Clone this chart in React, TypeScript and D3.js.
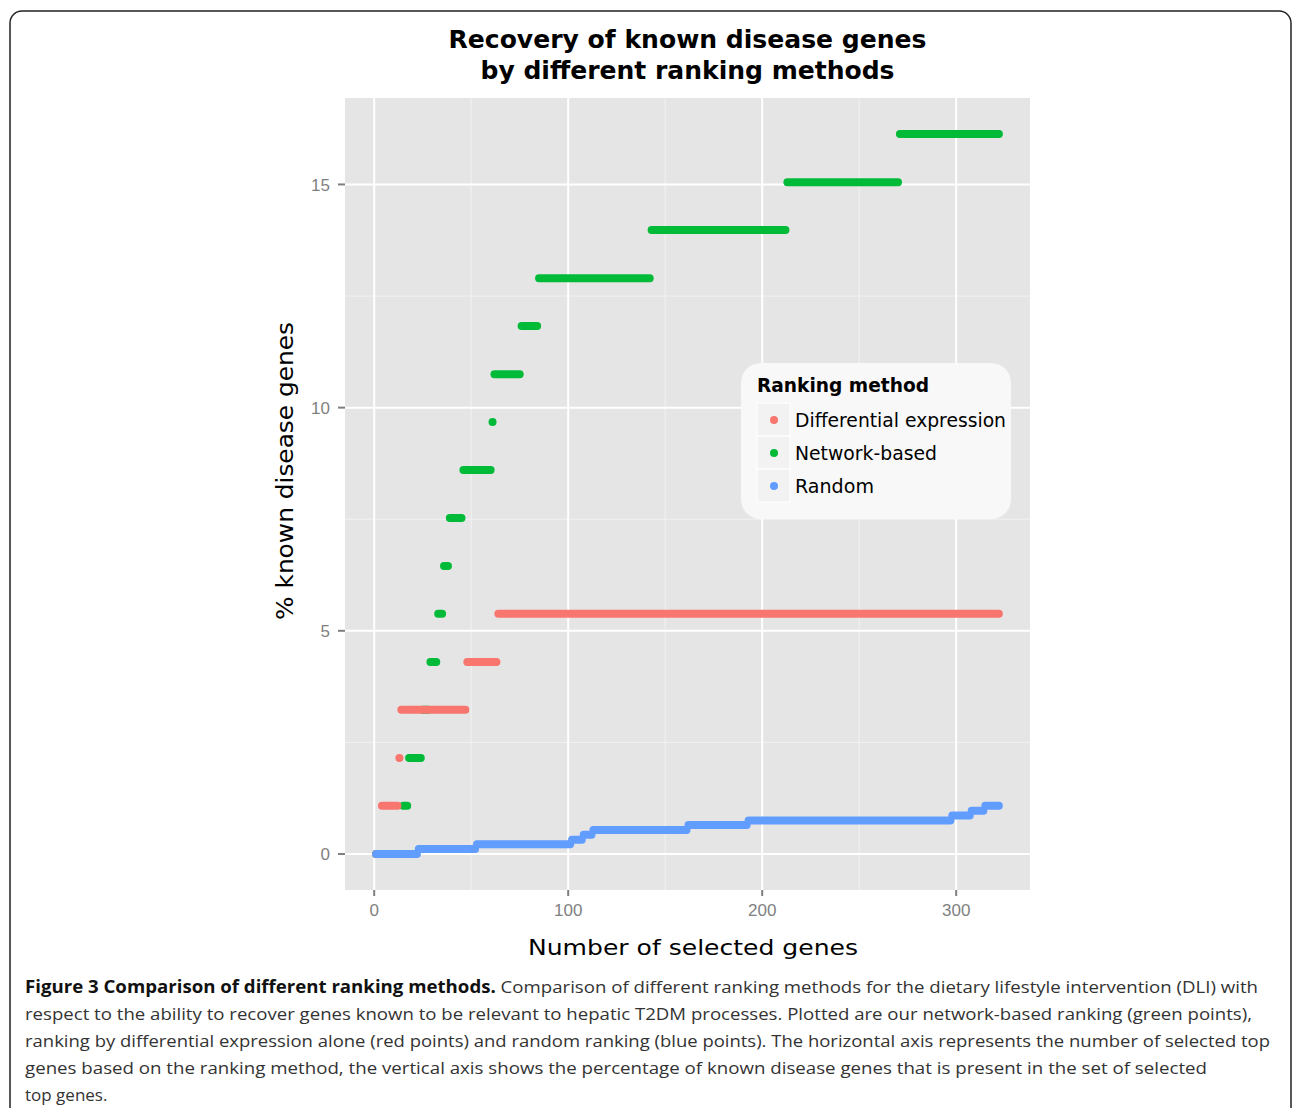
import React from 'react';
import * as d3 from 'd3';

// step data: first gene index, last gene index, % of known genes
const networkStart = [1, 15, 18, 25, 29, 33, 36, 39, 46, 61, 62, 76, 85, 143, 213, 271];
const networkEnd = [14, 17, 24, 28, 32, 35, 38, 45, 60, 61, 75, 84, 142, 212, 270, 322];
const networkPct = [0, 1.08, 2.15, 3.23, 4.3, 5.38, 6.45, 7.53, 8.6, 9.68, 10.75, 11.83, 12.9, 13.98, 15.05, 16.13];

const diffStart = [1, 4, 13, 14, 48, 64];
const diffEnd = [3, 12, 13, 47, 63, 322];
const diffPct = [0, 1.08, 2.15, 3.23, 4.3, 5.38];

const randomStart = [1, 23, 53, 102, 108, 113, 162, 193, 298, 308, 315];
const randomEnd = [22, 52, 101, 107, 112, 161, 192, 297, 307, 314, 322];
const randomPct = [0, 0.11, 0.22, 0.32, 0.43, 0.54, 0.65, 0.75, 0.86, 0.97, 1.08];

const methods = ['Differential expression', 'Network-based', 'Random'];
const methodColors = ['#F8766D', '#00BA38', '#619CFF'];

const xTicks = [0, 100, 200, 300];
const xMinor = [50, 150, 250];
const yTicks = [0, 5, 10, 15];
const yMinor = [2.5, 7.5, 12.5];

const captionLines = [
  'respect to the ability to recover genes known to be relevant to hepatic T2DM processes. Plotted are our network-based ranking (green points),',
  'ranking by differential expression alone (red points) and random ranking (blue points). The horizontal axis represents the number of selected top',
  'genes based on the ranking method, the vertical axis shows the percentage of known disease genes that is present in the set of selected',
  'top genes.',
];
const captionWidths = [1227, 1245, 1182, 0];

const W = 1292, H = 1108;
const margin = { left: 345, right: 1030, top: 98, bottom: 890 };

function segs(starts: number[], ends: number[], pct: number[]) {
  return starts.map((s, i) => ({ s, e: ends[i], v: pct[i] }));
}

export default function App() {
  // drawing order: green, red, blue (red covers green, blue covers both at 0)
  const series = [
    { name: methods[1], color: methodColors[1], data: segs(networkStart, networkEnd, networkPct) },
    { name: methods[0], color: methodColors[0], data: segs(diffStart, diffEnd, diffPct) },
    { name: methods[2], color: methodColors[2], data: segs(randomStart, randomEnd, randomPct) },
  ];

  const all = series.flatMap(d => d.data);
  const xr = [d3.min(all, d => d.s)!, d3.max(all, d => d.e)!];
  const yr = [d3.min(all, d => d.v)!, d3.max(all, d => d.v)!];
  const xPad = (xr[1] - xr[0]) * 0.05, yPad = (yr[1] - yr[0]) * 0.05;

  const x = d3.scaleLinear().domain([xr[0] - xPad, xr[1] + xPad]).range([margin.left, margin.right]);
  const y = d3.scaleLinear().domain([yr[0] - yPad, yr[1] + yPad]).range([margin.bottom, margin.top]);

  const tickCol = '#7F7F7F';
  const cx = (margin.left + margin.right) / 2;

  return (
    <svg width={W} height={H} viewBox={`0 0 ${W} ${H}`}
      style={{ position: 'absolute', left: 0, top: 0, background: '#fff' }}>
      <rect x={10} y={11} width={1281} height={1130} rx={12} fill="none" stroke="#222" strokeWidth={1.5} />

      {/* title */}
      <g fontFamily="DejaVu Sans" fontWeight="bold" fontSize={24} textAnchor="middle" fill="#000">
        <text x={cx} y={48} textLength={478} lengthAdjust="spacingAndGlyphs">Recovery of known disease genes</text>
        <text x={cx} y={79} textLength={414} lengthAdjust="spacingAndGlyphs">by different ranking methods</text>
      </g>

      {/* panel */}
      <rect x={margin.left} y={margin.top} width={margin.right - margin.left} height={margin.bottom - margin.top} fill="#E5E5E5" />
      {xMinor.map(t => (
        <line key={'xm' + t} x1={x(t)} x2={x(t)} y1={margin.top} y2={margin.bottom} stroke="#F2F2F2" strokeWidth={1} />
      ))}
      {yMinor.map(t => (
        <line key={'ym' + t} y1={y(t)} y2={y(t)} x1={margin.left} x2={margin.right} stroke="#F2F2F2" strokeWidth={1} />
      ))}
      {xTicks.map(t => (
        <line key={'xg' + t} x1={x(t)} x2={x(t)} y1={margin.top} y2={margin.bottom} stroke="#fff" strokeWidth={2} />
      ))}
      {yTicks.map(t => (
        <line key={'yg' + t} y1={y(t)} y2={y(t)} x1={margin.left} x2={margin.right} stroke="#fff" strokeWidth={2} />
      ))}

      {/* points: consecutive genes overlap into bars */}
      {series.map(sr => (
        <g key={sr.name} stroke={sr.color} strokeWidth={8} strokeLinecap="round">
          {sr.data.map((d, i) => (
            <line key={i} x1={x(d.s)} x2={x(d.e) + (d.s === d.e ? 0.01 : 0)} y1={y(d.v)} y2={y(d.v)} />
          ))}
        </g>
      ))}

      {/* axes */}
      <g fontFamily="Liberation Sans, Arial, sans-serif" fontSize={17} fill={tickCol}>
        {xTicks.map(t => (
          <g key={'xt' + t}>
            <line x1={x(t)} x2={x(t)} y1={margin.bottom} y2={margin.bottom + 6} stroke={tickCol} strokeWidth={2} />
            <text x={x(t)} y={916} textAnchor="middle">{t}</text>
          </g>
        ))}
        {yTicks.map(t => (
          <g key={'yt' + t}>
            <line x1={margin.left - 7} x2={margin.left} y1={y(t)} y2={y(t)} stroke={tickCol} strokeWidth={2} />
            <text x={330} y={y(t)} dy="0.36em" textAnchor="end">{t}</text>
          </g>
        ))}
      </g>
      <text x={693} y={955} fontFamily="DejaVu Sans" fontSize={22} textAnchor="middle"
        textLength={330} lengthAdjust="spacingAndGlyphs">Number of selected genes</text>
      <text transform="translate(293,471) rotate(-90)" fontFamily="DejaVu Sans" fontSize={23} textAnchor="middle"
        textLength={298} lengthAdjust="spacingAndGlyphs">% known disease genes</text>

      {/* legend */}
      <g>
        <rect x={741} y={363} width={270} height={156} rx={20} fill="#F8F8F8" />
        <text x={757} y={392} fontFamily="DejaVu Sans" fontWeight="bold" fontSize={19}
          textLength={172} lengthAdjust="spacingAndGlyphs">Ranking method</text>
        {methods.map((m, i) => (
          <g key={m} transform={`translate(757,${403 + i * 33})`}>
            <rect width={33} height={33} fill="#F2F2F2" stroke="#fff" strokeWidth={1} />
            <circle cx={17} cy={17} r={4} fill={methodColors[i]} />
            <text x={38} y={24} fontFamily="DejaVu Sans" fontSize={19}
              textLength={[211, 142, 79][i]} lengthAdjust="spacingAndGlyphs">{m}</text>
          </g>
        ))}
      </g>

      {/* caption */}
      <g fontFamily="Open Sans" fontSize={17} fill="#333">
        <text x={25} y={993} textLength={1233} lengthAdjust="spacingAndGlyphs">
          <tspan fontWeight="bold" fill="#111">Figure 3 Comparison of different ranking methods.</tspan>
          {' Comparison of different ranking methods for the dietary lifestyle intervention (DLI) with'}
        </text>
        {captionLines.map((l, i) => (
          <text key={i} x={25} y={1020 + i * 27}
            {...(captionWidths[i] ? { textLength: captionWidths[i], lengthAdjust: 'spacingAndGlyphs' } : {})}>{l}</text>
        ))}
      </g>
    </svg>
  );
}
